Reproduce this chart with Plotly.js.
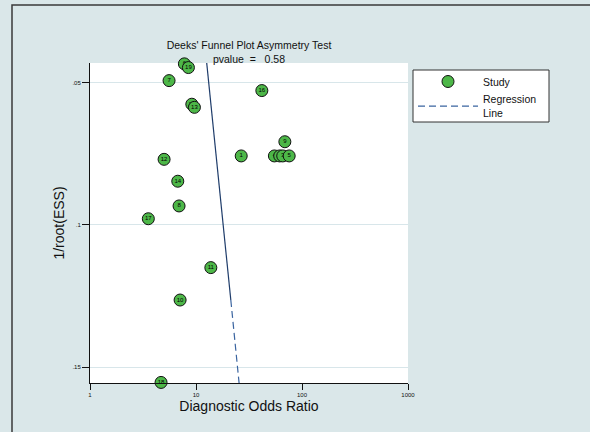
<!DOCTYPE html>
<html>
<head>
<meta charset="utf-8">
<script src="https://cdn.plot.ly/plotly-3.0.1.min.js"></script>
<style>
  html, body { margin: 0; padding: 0; background: #dae7e9; }
  #chart { width: 590px; height: 432px; }
</style>
</head>
<body>
<div id="chart"></div>
<script>
// Study labels, in drawing order (later studies sit on top of earlier ones)
const studyIds = ['6', '19', '7', '16', '15', '13', '9', '1', '4', '2', '3', '5', '12', '14', '8', '17', '11', '10', '18'];
// Diagnostic odds ratio of each study
const diagOdds = [7.77, 8.48, 5.57, 41.8, 9.13, 9.66, 68.9, 26.7, 54.9, 61.6, 65.8, 75.7, 5.0, 6.73, 6.92, 3.55, 13.8, 7.08, 4.68];
// 1/sqrt(effective sample size) of each study
const invRootEss = [0.0433, 0.0446, 0.0492, 0.0527, 0.0575, 0.0586, 0.0707, 0.0757, 0.0757, 0.0757, 0.0757, 0.0757, 0.0769, 0.0846, 0.0933, 0.0978, 0.1150, 0.1264, 0.1554];

// Fitted regression line (DOR against 1/root(ESS)): upper solid run, lower dashed run
const regSolidY = [0.0430, 0.1264];
const regSolidX = [12.62, 21.3];
const regDashY = [0.1264, 0.1556];
const regDashX = [21.3, 25.5];

// Axis ticks
const xTickVals = [1, 10, 100, 1000];
const xTickText = ['1', '10', '100', '1000'];
const yTickVals = [0.05, 0.1, 0.15];
const yTickText = ['.05', '.1', '.15'];

const pValueText = '0.58';

const FONT = 'Liberation Sans, Arial, Helvetica, sans-serif';
const markerStyle = { size: 12, color: '#4db748', line: { color: '#111111', width: 1 } };
const lineColor = '#3a64a0';

const traces = [];

// Legend entry for the study markers
traces.push({
  type: 'scatter', mode: 'markers', name: 'Study',
  x: [null], y: [null], marker: markerStyle,
  legendgroup: 'study', showlegend: true, hoverinfo: 'skip'
});

// One trace per study so that overlapping circles hide the labels beneath them
studyIds.forEach((id, i) => {
  traces.push({
    type: 'scatter', mode: 'markers+text',
    x: [diagOdds[i]], y: [invRootEss[i]], text: [id],
    textposition: 'middle center',
    textfont: { family: FONT, size: 6, color: '#000000' },
    marker: markerStyle, cliponaxis: false,
    legendgroup: 'study', showlegend: false, name: 'Study ' + id
  });
});

traces.push({
  type: 'scatter', mode: 'lines', x: regSolidX, y: regSolidY,
  line: { color: '#1e3c6a', width: 1.2 },
  legendgroup: 'reg', showlegend: false, cliponaxis: false, hoverinfo: 'skip'
});
traces.push({
  type: 'scatter', mode: 'lines', x: regDashX, y: regDashY,
  name: 'Regression<br>Line',
  line: { color: lineColor, width: 1.2, dash: '7px,4px' },
  legendgroup: 'reg', showlegend: true, cliponaxis: false, hoverinfo: 'skip'
});

const W = 590, H = 432;
const L = 90, R = 182, T = 63, B = 49;
const pw = W - L - R, ph = H - T - B;
const px2x = p => (p - L) / pw;
const px2y = p => (H - B - p) / ph;

const layout = {
  width: W, height: H,
  margin: { l: L, r: R, t: T, b: B, pad: 0 },
  paper_bgcolor: '#dae7e9',
  plot_bgcolor: '#ffffff',
  font: { family: FONT, color: '#111111' },
  title: {
    text: "Deeks' Funnel Plot Asymmetry Test<br>pvalue\u00a0\u00a0=\u00a0\u00a0\u00a0" + pValueText,
    font: { family: FONT, size: 10.5, color: '#111111' },
    xref: 'paper', yref: 'container',
    x: 0.5, xanchor: 'center',
    y: 1 - 49 / H, yanchor: 'top'
  },
  xaxis: {
    type: 'log', range: [0, 3],
    tickmode: 'array', tickvals: xTickVals, ticktext: xTickText,
    tickfont: { family: FONT, size: 6, color: '#111111' },
    ticks: 'outside', ticklen: 6, tickwidth: 1, tickcolor: '#111111',
    showline: true, linecolor: '#111111', linewidth: 1,
    showgrid: false, zeroline: false,
    title: { text: 'Diagnostic Odds Ratio', font: { family: FONT, size: 14, color: '#111111' }, standoff: 3 },
    automargin: false
  },
  yaxis: {
    range: [0.1556, 0.0430],
    tickmode: 'array', tickvals: yTickVals, ticktext: yTickText,
    tickfont: { family: FONT, size: 6, color: '#111111' },
    ticks: 'outside', ticklen: 7, tickwidth: 1, tickcolor: '#111111',
    showline: true, linecolor: '#111111', linewidth: 1,
    showgrid: true, gridcolor: '#d8e6ea', gridwidth: 1, zeroline: false,
    title: { text: '1/root(ESS)', font: { family: FONT, size: 14, color: '#111111' }, standoff: 4 },
    automargin: false
  },
  legend: {
    x: px2x(413), y: px2y(67), xanchor: 'left', yanchor: 'top',
    bgcolor: 'rgba(0,0,0,0)', borderwidth: 0,
    font: { family: FONT, size: 10.5, color: '#111111' },
    itemwidth: 60, traceorder: 'normal', tracegroupgap: 0
  },
  shapes: [
    // legend frame
    {
      type: 'rect', xref: 'paper', yref: 'paper', layer: 'below',
      x0: px2x(413), x1: px2x(549), y0: px2y(122), y1: px2y(70),
      line: { color: '#333333', width: 1 }, fillcolor: '#ffffff'
    },
    // outer graph frame
    {
      type: 'rect', xref: 'paper', yref: 'paper', layer: 'above',
      x0: px2x(12), x1: px2x(700), y0: px2y(600), y1: px2y(5),
      line: { color: '#3a3a3a', width: 1.5 }, fillcolor: 'rgba(0,0,0,0)'
    }
  ],
  showlegend: true,
  hovermode: false
};

Plotly.newPlot('chart', traces, layout, { staticPlot: true, displayModeBar: false });
</script>
</body>
</html>
